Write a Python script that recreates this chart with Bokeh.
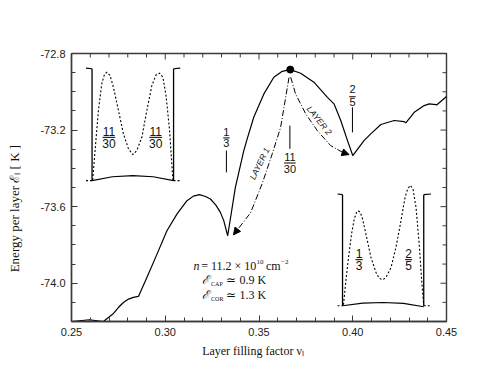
import numpy as np
from bokeh.plotting import figure
from bokeh.models import Range1d, FixedTicker, Arrow, NormalHead
from bokeh.core.properties import value
from bokeh.embed import file_html
from bokeh.resources import INLINE

# ---------------- data ----------------
nu = [0.2503, 0.2595, 0.2670, 0.2697, 0.2724, 0.2750, 0.2777, 0.2804, 0.2830, 0.2857,
      0.2902, 0.2956, 0.3009, 0.3063, 0.3116, 0.3150, 0.3182, 0.3215, 0.3241, 0.3270, 0.3294,
      0.3312, 0.3333,
      0.3374, 0.3419, 0.3437, 0.3472, 0.3526, 0.3579, 0.3624, 0.3667,
      0.3722, 0.3793, 0.3865, 0.3900, 0.3936, 0.3972, 0.4000,
      0.4060, 0.4096, 0.4150, 0.4221, 0.4274, 0.4283,
      0.4328, 0.4381, 0.4408, 0.4444, 0.4449, 0.4500]
energy = [-74.200, -74.191, -74.200, -74.179, -74.158, -74.127, -74.101, -74.083, -74.074, -74.069,
          -73.970, -73.848, -73.726, -73.638, -73.569, -73.545, -73.537, -73.547, -73.560, -73.592, -73.630,
          -73.673, -73.752,
          -73.499, -73.307, -73.246, -73.133, -73.011, -72.924, -72.893, -72.884,
          -72.903, -72.950, -73.029, -73.063, -73.150, -73.255, -73.333,
          -73.255, -73.220, -73.171, -73.150, -73.156, -73.162,
          -73.107, -73.072, -73.063, -73.067, -73.068, -73.025]

peak_nu = [11 / 30]
peak_energy = [-72.884]

layer1_nu = [0.3660, 0.3615, 0.3571, 0.3517, 0.3455, 0.3364]
layer1_energy = [-72.926, -73.187, -73.323, -73.480, -73.632, -73.747]
layer2_nu = [0.3669, 0.3695, 0.3749, 0.3811, 0.3882, 0.3945, 0.3980]
layer2_energy = [-72.924, -73.011, -73.115, -73.203, -73.281, -73.316, -73.328]

# inset density profiles (normalised: u across the layer, v = density)
left_u = [0.008, 0.037, 0.078, 0.119, 0.148, 0.180, 0.221, 0.262, 0.324, 0.385, 0.447, 0.500,
          0.549, 0.611, 0.672, 0.734, 0.787, 0.828, 0.869, 0.910, 0.951, 0.992]
left_v = [0.006, 0.269, 0.627, 0.866, 0.940, 0.970, 0.940, 0.836, 0.627, 0.418, 0.284, 0.233,
          0.269, 0.388, 0.627, 0.851, 0.949, 0.961, 0.925, 0.746, 0.448, 0.000]
left_base_u = [0.0, 0.25, 0.5, 0.75, 1.0]
left_base_v = [0.0, 0.035, 0.045, 0.035, 0.0]

right_u = [0.012, 0.041, 0.074, 0.111, 0.144, 0.173, 0.193, 0.218, 0.247, 0.288, 0.350, 0.412,
           0.453, 0.494, 0.535, 0.597, 0.658, 0.720, 0.770, 0.802, 0.835, 0.868, 0.905, 0.947,
           0.975, 1.000]
right_v = [0.009, 0.225, 0.435, 0.646, 0.781, 0.841, 0.856, 0.841, 0.781, 0.646, 0.435, 0.300,
           0.246, 0.234, 0.255, 0.345, 0.526, 0.766, 0.976, 1.051, 1.084, 1.051, 0.886, 0.526,
           0.225, 0.000]
right_base_u = [0.0, 0.25, 0.5, 0.75, 1.0]
right_base_v = [0.0, 0.024, 0.03, 0.022, -0.009]

x_ticks = [0.25, 0.30, 0.35, 0.40, 0.45]
x_tick_labels = ["0.25", "0.30", "0.35", "0.40", "0.45"]
x_minor = [0.26, 0.27, 0.28, 0.29, 0.31, 0.32, 0.33, 0.34, 0.36, 0.37, 0.38, 0.39,
           0.41, 0.42, 0.43, 0.44]
y_ticks = [-74.0, -73.6, -73.2, -72.8]
y_tick_labels = ["-74.0", "-73.6", "-73.2", "-72.8"]
y_minor = [-74.2, -74.1, -73.9, -73.8, -73.7, -73.5, -73.4, -73.3, -73.1, -73.0, -72.9]

X0, X1, Y0, Y1 = 0.25, 0.45, -74.2, -72.8

# ---------------- figure ----------------
p = figure(width=483, height=371, x_range=Range1d(X0, X1), y_range=Range1d(Y0, Y1),
           output_backend="svg", toolbar_location=None,
           min_border_left=71, min_border_right=37, min_border_top=53, min_border_bottom=50)
p.xgrid.visible = False
p.ygrid.visible = False
AX = "#3a3a3a"
p.outline_line_color = AX
p.outline_line_width = 1.4
p.outline_line_alpha = 1.0
p.background_fill_color = "white"
p.border_fill_color = "white"

MAJ, MIN = 6, 4


def style_axis(ax, ticks, minor, labels):
    ax.ticker = FixedTicker(ticks=ticks, minor_ticks=minor)
    ax.major_tick_in = MAJ
    ax.major_tick_out = 0
    ax.minor_tick_in = MIN
    ax.minor_tick_out = 0
    ax.axis_line_color = AX
    ax.axis_line_width = 1.4
    ax.major_tick_line_color = AX
    ax.minor_tick_line_color = AX
    ax.major_tick_line_width = 1
    ax.minor_tick_line_width = 1
    ax.major_label_text_font = "Liberation Sans"
    ax.major_label_text_font_size = "11px"
    ax.major_label_text_color = "#222222"
    ax.major_label_standoff = 6
    ax.major_label_overrides = {t: l for t, l in zip(ticks, labels)}


xax = p.xaxis[0]
yax = p.yaxis[0]
style_axis(xax, x_ticks, x_minor, x_tick_labels)
style_axis(yax, y_ticks, y_minor, y_tick_labels)

xax.axis_label = "Layer filling factor \u03bd\u2097\u2003"
xax.axis_label_text_font = "Liberation Serif"
xax.axis_label_text_font_style = "normal"
xax.axis_label_text_font_size = "12px"
xax.axis_label_text_color = "#111111"
xax.axis_label_standoff = 5

yax.axis_label = "Energy per layer \u2130\u2097  [ K ]\u2003\u2003\u2003"
yax.axis_label_text_font = "Liberation Serif"
yax.axis_label_text_font_style = "normal"
yax.axis_label_text_font_size = "13px"
yax.axis_label_text_color = "#111111"
yax.axis_label_standoff = 15

# ticks on top and right edges of the frame
px_per_x = 374 / (X1 - X0)
px_per_y = 268 / (Y1 - Y0)
for ticks, ln in ((x_ticks, MAJ), (x_minor, MIN)):
    p.segment(ticks, [Y1] * len(ticks), ticks, [Y1 - ln / px_per_y] * len(ticks),
              line_color=AX, line_width=1)
for ticks, ln in ((y_ticks, MAJ), (y_minor, MIN)):
    p.segment([X1] * len(ticks), ticks, [X1 - ln / px_per_x] * len(ticks), ticks,
              line_color=AX, line_width=1)

# ---------------- main curve ----------------
p.line(nu, energy, line_color="black", line_width=1.2)
p.scatter(peak_nu, peak_energy, size=7, color="black")

# layer arrows
p.line(layer1_nu, layer1_energy, line_color="black", line_width=1, line_dash="6 2 1 2")
p.line(layer2_nu, layer2_energy, line_color="black", line_width=1, line_dash="6 2 1 2")
for xs, ys in ((layer1_nu, layer1_energy), (layer2_nu, layer2_energy)):
    p.add_layout(Arrow(end=NormalHead(size=7, fill_color="black", line_color="black", line_width=1),
                       x_start=xs[-2], y_start=ys[-2], x_end=xs[-1], y_end=ys[-1], line_alpha=0))

SANS = value("Liberation Sans")
SERIF = value("Liberation Serif")
INK = "#111111"

p.text([0.3503], [-73.375], text=["LAYER 1"], angle=1.12, text_font=SANS, text_font_style="italic",
       text_font_size="8.5px", text_align="center", text_baseline="middle", text_color=INK)
p.text([0.3822], [-73.150], text=["LAYER 2"], angle=-0.89, text_font=SANS, text_font_style="italic",
       text_font_size="8.5px", text_align="center", text_baseline="middle", text_color=INK)


def fraction(x, y_num, y_bar, y_den, num, den, size, halfw):
    p.text([x, x], [y_num, y_den], text=[num, den], text_font=SANS, text_font_size=size,
           text_align="center", text_baseline="middle", text_color=INK)
    p.segment([x - halfw], [y_bar], [x + halfw], [y_bar], line_color="black", line_width=1)


# fraction markers in the main plot
fraction(0.33262, -73.208, -73.241, -73.268, "1", "3", "11px", 0.0017)
p.segment([0.33262], [-73.307], [0.33262], [-73.421], line_color="black", line_width=1)
fraction(0.36647, -73.339, -73.372, -73.404, "11", "30", "11px", 0.0031)
p.segment([0.36647], [-73.177], [0.36647], [-73.298], line_color="black", line_width=1)
fraction(0.39984, -72.983, -73.026, -73.054, "2", "5", "11px", 0.0017)
p.segment([0.39984], [-73.081], [0.39984], [-73.212], line_color="black", line_width=1)


# ---------------- insets ----------------
def inset(box, pu, pv, bu, bv, stub_l, stub_r):
    x0, x1, y0, y1 = box
    fx = lambda u: [x0 + (x1 - x0) * a for a in u]
    fy = lambda v: [y0 + (y1 - y0) * a for a in v]
    p.line(fx(pu), fy(pv), line_color="black", line_width=1.1, line_dash="2 2")
    p.line(fx(bu), fy(bv), line_color="black", line_width=1.1)
    p.segment(fx([0, 1]), fy([0, 0]), fx([0, 1]), fy([1, 1]), line_color="black", line_width=1.3)
    p.segment(fx([stub_l, 1]), fy([1.006, 1]), fx([0, stub_r]), fy([1, 1.006]),
              line_color="black", line_width=1.1)
    p.segment(fx([stub_l, 1]), fy([0, 0]), fx([0, stub_r]), fy([0, 0]),
              line_color="black", line_width=1.1, line_dash="2 2")


inset((0.26096, 0.30444, -73.4642, -72.880), left_u, left_v, left_base_u, left_base_v, -0.074, 1.082)
inset((0.39455, 0.43786, -74.118, -73.5374), right_u, right_v, right_base_u, right_base_v, -0.062, 1.09)

fraction(0.26996, -73.205, -73.238, -73.270, "11", "30", "12px", 0.0034)
fraction(0.29492, -73.205, -73.238, -73.270, "11", "30", "12px", 0.0034)
fraction(0.40337, -73.846, -73.877, -73.906, "1", "3", "12px", 0.0019)
fraction(0.42979, -73.846, -73.877, -73.906, "2", "5", "12px", 0.0019)

# ---------------- parameter block ----------------
def txt(x, y, s, size, style="normal"):
    p.text([x], [y], text=[s], text_font=SERIF, text_font_style=style, text_font_size=size,
           text_align="left", text_baseline="middle", text_color=INK)


txt(0.31513, -73.9088, "n", "12px", "italic")
txt(0.31914, -73.9088, "= 11.2 \u00d7 10", "12px")
txt(0.34866, -73.8880, "10", "7px")
txt(0.35374, -73.9088, "cm", "12px")
txt(0.36176, -73.8880, "\u22122", "7px")

for yrow, sub, val in ((-73.9836, "CAP", "\u2243 0.9 K"), (-74.0605, "COR", "\u2243 1.3 K")):
    txt(0.31968, yrow, "\u2130", "12px", "italic")
    txt(0.32444, yrow - 0.021, sub, "6px")
    txt(0.33260, yrow, val, "12px")

open("out.html", "w").write(file_html(p, INLINE))
